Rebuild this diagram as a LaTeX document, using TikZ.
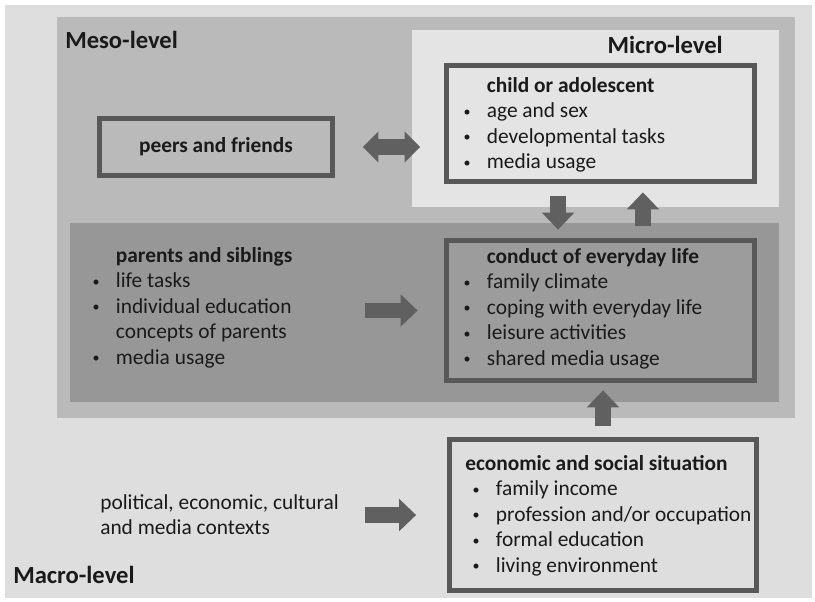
\documentclass[tikz,border=0pt]{standalone}
\usepackage{fontspec}
\setmainfont{Carlito}
\usetikzlibrary{arrows.meta}

\definecolor{outerbg}{HTML}{DEDEDE}
\definecolor{mesobg}{HTML}{BABABA}
\definecolor{microbg}{HTML}{E4E4E4}
\definecolor{bandbg}{HTML}{979797}
\definecolor{conductbg}{HTML}{9C9C9C}
\definecolor{boxline}{HTML}{585858}
\definecolor{arrowgray}{HTML}{606060}
\definecolor{textgray}{HTML}{1A1A1A}

\tikzset{
  levelbox/.style={draw=boxline, line width=3.5pt, inner sep=0pt, text=textgray},
  fat/.style={draw=arrowgray, line width=11.3pt,
    -{Triangle[length=12pt, width=23pt, line width=0pt]}},
  fatboth/.style={draw=arrowgray, line width=11.3pt,
    {Triangle[length=11pt, width=22pt, line width=0pt]}-{Triangle[length=11pt, width=22pt, line width=0pt]}},
  listtext/.style={anchor=north west, align=left, inner sep=0pt, text=textgray,
    font=\fontsize{15.2}{18.2}\selectfont},
  levellabel/.style={inner sep=0pt, text=textgray, font=\fontsize{17.5}{21}\selectfont\bfseries}
}
\newcommand{\bul}{\makebox[17.5pt][l]{\hspace*{1pt}\raisebox{1.2pt}{\fontsize{10}{10}\selectfont\textbullet}}}
\newcommand{\hd}[1]{\hspace*{17.5pt}\textbf{#1}}

\begin{document}
\begin{tikzpicture}[x=0.025cm, y=-0.025cm]
\useasboundingbox (0,0) rectangle (815,601);
\fill[white] (0,0) rectangle (815,601);

% level backgrounds
\fill[outerbg] (5,5) rectangle (812,598);
\fill[mesobg] (57,17) rectangle (795,418);
\fill[microbg] (412,30) rectangle (779,207);
\fill[bandbg] (70,223) rectangle (779,402);

\node (mesolabel) at (65,48) [levellabel, anchor=base west]{Meso-level};
\node (microlabel) at (723,53) [levellabel, anchor=base east]{Micro-level};
\node (macrolabel) at (13,583) [levellabel, anchor=base west]{Macro-level};

% boxes
\node (peers) at (216,147) [levelbox, fill=mesobg, minimum width=5.825cm, minimum height=1.425cm,
  font=\fontsize{15.2}{18.2}\selectfont\bfseries]{peers and friends};
\node (child) at (600.5,123.5) [levelbox, fill=microbg, minimum width=7.7cm, minimum height=2.9cm]{};
\node (conduct) at (600.5,310.5) [levelbox, fill=conductbg, minimum width=7.7cm, minimum height=3.5cm]{};
\node (econ) at (603,515) [levelbox, fill=outerbg, minimum width=7.675cm, minimum height=3.775cm]{};

% texts
\node (childtext) at (462,74) [listtext]{\strut\hd{child or adolescent}\\
  \bul age and sex\\ \bul developmental tasks\\ \bul media usage};
\node (conducttext) at (462,245) [listtext]{\strut\hd{conduct of everyday life}\\
  \bul family climate\\ \bul coping with everyday life\\ \bul leisure activities\\ \bul shared media usage};
\node (parentstext) at (91,244) [listtext]{\strut\hd{parents and siblings}\\
  \bul life tasks\\ \bul individual education\\ \hspace*{17.5pt}concepts of parents\\ \bul media usage};
\node (econtext) at (465,452) [listtext]{\strut\textbf{economic and social situation}\\
  \hspace*{4.3pt}\bul family income\\ \hspace*{4.3pt}\bul profession and/or occupation\\
  \hspace*{4.3pt}\bul formal education\\ \hspace*{4.3pt}\bul living environment};
\node (contexttext) at (100,491) [listtext]{\strut political, economic, cultural\\ and media contexts};

% arrows
\coordinate (parentsout) at (365,310.5);
\coordinate (contextout) at (365,515);

\draw [fatboth, shorten <=19.9pt, shorten >=17pt] (peers.east) -- (peers.east -| child.west);
\draw [fat, shorten <=8.2pt, shorten >=6pt] ([xshift=-1.06cm]child.south) -- ([xshift=-1.06cm]conduct.north);
\draw [fat, shorten <=8.9pt, shorten >=6pt] ([xshift=1.06cm]conduct.north) -- ([xshift=1.06cm]child.south);
\draw [fat, shorten <=8.2pt, shorten >=5.3pt] (econ.north) -- (econ.north |- conduct.south);
\draw [fat, shorten >=18.8pt] (parentsout) -- (conduct.west);
\draw [fat, shorten >=22pt] (contextout) -- (econ.west);

\end{tikzpicture}
\end{document}
